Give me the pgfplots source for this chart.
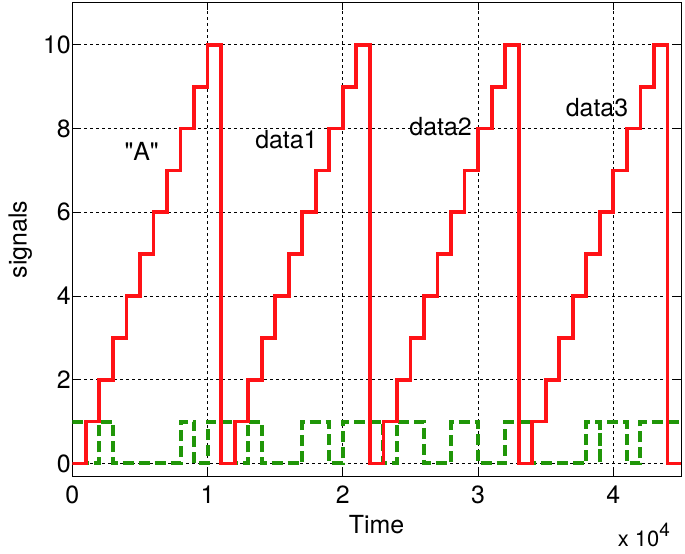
\documentclass[border=0pt]{standalone}
\usepackage{fontspec}
\setmainfont{TeX Gyre Heros}[Ligatures=TeXOff]
\usepackage{pgfplots}
\pgfplotsset{compat=1.18}

\definecolor{sigred}{RGB}{255,18,22}
\definecolor{siggreen}{RGB}{32,150,8}

\begin{document}
\begin{tikzpicture}
\begin{axis}[
    name=ax,
    scale only axis,
    width=608.7bp, height=473bp,
    xmin=0, xmax=45000,
    ymin=-0.3, ymax=11,
    xtick={0,10000,20000,30000,40000},
    xticklabels={0,1,2,3,4},
    ytick={0,2,4,6,8,10},
    scaled x ticks=false,
    /pgf/number format/assume math mode=true,
    font=\fontsize{25}{30}\selectfont,
    grid=major,
    grid style={black, line width=0.75bp, dash pattern=on 3bp off 3bp},
    axis line style={black, line width=1bp},
    tick align=inside,
    major tick length=7bp,
    tick style={black, line width=0.8bp},
    xticklabel style={yshift=-6bp},
    yticklabel style={xshift=2bp},
    xlabel={Time},
    ylabel={signals},
    xlabel style={at={(axis description cs:0.5,0)}, anchor=center, yshift=-48.7bp},
    ylabel style={at={(axis description cs:0,0.5)}, anchor=center, yshift=52bp},
]

% serial line (idle high, start bit, 8 data bits, stop bit)
\addplot[const plot, siggreen, line width=4bp, dash pattern=on 11bp off 5bp]
    coordinates {
    (0,1)(1000,0)(2000,1)(3000,0)(8000,1)(9000,0)(10000,1)
    (12000,0)(13000,1)(14000,0)(17000,1)(19000,0)(20000,1)
    (23000,0)(24000,1)(26000,0)(28000,1)(30000,0)(32000,1)
    (34000,0)(38000,1)(39000,0)(39000,1)(41000,0)(42000,1)(45000,1)
    };

% bit counter
\addplot[const plot, sigred, line width=3.8bp]
    coordinates {
    (0,0)(1000,1)(2000,2)(3000,3)(4000,4)(5000,5)(6000,6)(7000,7)(8000,8)(9000,9)(10000,10)
    (11000,0)(12000,1)(13000,2)(14000,3)(15000,4)(16000,5)(17000,6)(18000,7)(19000,8)(20000,9)(21000,10)
    (22000,0)(23000,1)(24000,2)(25000,3)(26000,4)(27000,5)(28000,6)(29000,7)(30000,8)(31000,9)(32000,10)
    (33000,0)(34000,1)(35000,2)(36000,3)(37000,4)(38000,5)(39000,6)(40000,7)(41000,8)(42000,9)(43000,10)
    (44000,0)(45000,0)
    };

\node[font=\fontsize{25}{30}\selectfont] at (axis cs:5130,7.45) {"A"};
\node[font=\fontsize{25}{30}\selectfont] at (axis cs:15830,7.74) {data1};
\node[font=\fontsize{25}{30}\selectfont] at (axis cs:27230,8.05) {data2};
\node[font=\fontsize{25}{30}\selectfont] at (axis cs:38790,8.51) {data3};
\end{axis}

\node[anchor=base east, inner sep=0pt, font=\fontsize{22}{26}\selectfont]
    at ([xshift=-11bp, yshift=-70.7bp]ax.south east)
    {x 10\raisebox{10bp}{\fontsize{19}{22}\selectfont 4}};

\pgfresetboundingbox
\path[use as bounding box] ([xshift=-72.3bp, yshift=-77bp]ax.south west)
    rectangle ([xshift=4bp, yshift=3bp]ax.north east);
\end{tikzpicture}
\end{document}
